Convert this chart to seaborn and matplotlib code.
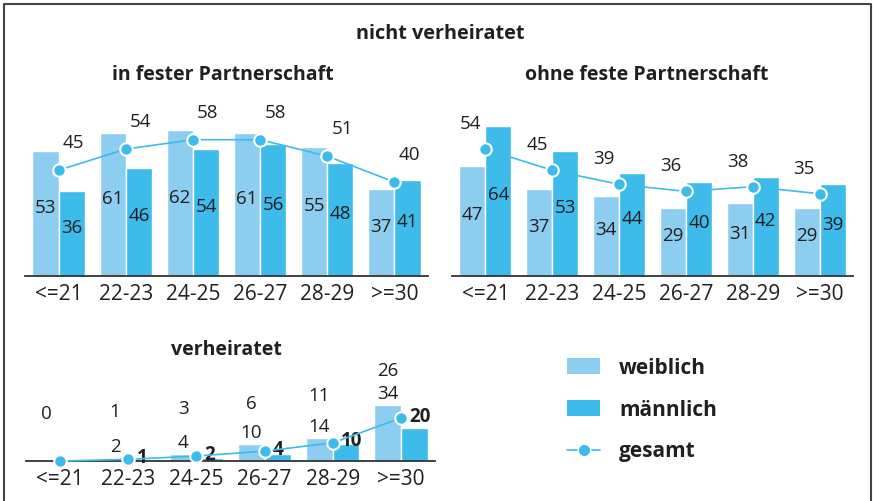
import matplotlib
matplotlib.use('Agg')
import matplotlib.pyplot as plt
import seaborn as sns
import pandas as pd
from matplotlib.patches import Patch
from matplotlib.lines import Line2D

# data
altersgruppen = ['<=21', '22-23', '24-25', '26-27', '28-29', '>=30']

fest_weiblich = [53, 61, 62, 61, 55, 37]
fest_maennlich = [36, 46, 54, 56, 48, 41]
fest_gesamt = [45, 54, 58, 58, 51, 40]

ohne_weiblich = [47, 37, 34, 29, 31, 29]
ohne_maennlich = [64, 53, 44, 40, 42, 39]
ohne_gesamt = [54, 45, 39, 36, 38, 35]

verh_weiblich = [0, 2, 4, 10, 14, 34]
verh_maennlich = [0, 1, 2, 4, 10, 20]
verh_gesamt = [0, 1, 3, 6, 11, 26]

hell = '#8dcdef'
dunkel = '#3dbbeb'
linie = '#3dbbeb'
textfarbe = '#231f20'

sns.set_theme(style='white')
plt.rcParams['font.family'] = ['Open Sans', 'DejaVu Sans']

W, H = 873, 501
fig = plt.figure(figsize=(W / 100, H / 100), dpi=100)


def px_axes(left, right, top, bottom):
    return fig.add_axes([left / W, 1 - bottom / H, (right - left) / W, (bottom - top) / H])


def panel(ax, weiblich, maennlich, gesamt, ymax):
    df = pd.DataFrame({'alter': altersgruppen * 2,
                       'wert': weiblich + maennlich,
                       'geschlecht': ['weiblich'] * 6 + ['männlich'] * 6})
    sns.barplot(data=df, x='alter', y='wert', hue='geschlecht', order=altersgruppen,
                palette=[hell, dunkel], width=0.78, saturation=1, edgecolor='white',
                linewidth=1, legend=False, ax=ax)
    sns.pointplot(x=altersgruppen, y=gesamt, color=linie, markers='o', errorbar=None,
                  markersize=9, markeredgecolor='white', markeredgewidth=1.5,
                  linewidth=1.2, clip_on=False, zorder=5, ax=ax)
    ax.set_ylim(0, ymax)
    ax.set_xlim(-0.5, 5.5)
    ax.set_xlabel('')
    ax.set_ylabel('')
    ax.set_yticks([])
    for s in ['top', 'left', 'right']:
        ax.spines[s].set_visible(False)
    ax.spines['bottom'].set_color('#333333')
    ax.spines['bottom'].set_linewidth(1.3)
    ax.tick_params(axis='x', length=0, pad=6, labelsize=15, labelcolor=textfarbe)
    ax.set_facecolor('none')


# in fester Partnerschaft
ax1 = px_axes(25, 428, 100, 276)
panel(ax1, fest_weiblich, fest_maennlich, fest_gesamt, 74.9)
for i in range(6):
    ax1.annotate(str(fest_weiblich[i]), (i - 0.195, fest_weiblich[i] / 2), xytext=(0, 4),
                 textcoords='offset points', ha='center', va='center', fontsize=13.5, color=textfarbe)
    ax1.annotate(str(fest_maennlich[i]), (i + 0.195, fest_maennlich[i] / 2), xytext=(0, 4),
                 textcoords='offset points', ha='center', va='center', fontsize=13.5, color=textfarbe)
    ax1.annotate(str(fest_gesamt[i]), (i, fest_gesamt[i]), xytext=(10.8, 19.5),
                 textcoords='offset points', ha='center', va='center', fontsize=13.5, color=textfarbe)

# ohne feste Partnerschaft
ax2 = px_axes(452, 853, 100, 276)
panel(ax2, ohne_weiblich, ohne_maennlich, ohne_gesamt, 74.9)
for i in range(6):
    ax2.annotate(str(ohne_weiblich[i]), (i - 0.195, ohne_weiblich[i] / 2), xytext=(0, 4),
                 textcoords='offset points', ha='center', va='center', fontsize=13.5, color=textfarbe)
    ax2.annotate(str(ohne_maennlich[i]), (i + 0.195, ohne_maennlich[i] / 2), xytext=(0, 4),
                 textcoords='offset points', ha='center', va='center', fontsize=13.5, color=textfarbe)
    ax2.annotate(str(ohne_gesamt[i]), (i, ohne_gesamt[i]), xytext=(-11, 18),
                 textcoords='offset points', ha='center', va='center', fontsize=13.5, color=textfarbe)

# verheiratet
ax3 = px_axes(26, 435, 371, 461)
panel(ax3, verh_weiblich, verh_maennlich, verh_gesamt, 54.5)
for i in range(6):
    ax3.annotate(str(verh_gesamt[i]), (i - 0.195, verh_gesamt[i]), xytext=(0, 34),
                 textcoords='offset points', ha='center', va='center', fontsize=13.5, color=textfarbe)
    if verh_weiblich[i] > 0:
        ax3.annotate(str(verh_weiblich[i]), (i - 0.195, verh_weiblich[i]), xytext=(0, 8),
                     textcoords='offset points', ha='center', va='center', fontsize=13.5, color=textfarbe)
    if verh_maennlich[i] > 0:
        ax3.annotate(str(verh_maennlich[i]), (i, verh_gesamt[i]), xytext=(6, 1),
                     textcoords='offset points', ha='left', va='center', fontsize=13.5,
                     fontweight='bold', color=textfarbe)

# titles
fig.text(440 / W, 1 - 34 / H, 'nicht verheiratet', ha='center', va='center',
         fontsize=14.3, fontweight='bold', color=textfarbe)
fig.text(223 / W, 1 - 75 / H, 'in fester Partnerschaft', ha='center', va='center',
         fontsize=14, fontweight='bold', color=textfarbe)
fig.text(647 / W, 1 - 75 / H, 'ohne feste Partnerschaft', ha='center', va='center',
         fontsize=14, fontweight='bold', color=textfarbe)
fig.text(226 / W, 1 - 350 / H, 'verheiratet', ha='center', va='center',
         fontsize=14, fontweight='bold', color=textfarbe)

# legend
handles = [Patch(facecolor=hell, edgecolor='none'),
           Patch(facecolor=dunkel, edgecolor='none'),
           Line2D([], [], color=linie, lw=1.2, marker='o', markersize=9,
                  markeredgecolor='white', markeredgewidth=1)]
fig.legend(handles, ['weiblich', 'männlich', 'gesamt'], loc='center left',
           bbox_to_anchor=(567 / W, 1 - 410 / H), frameon=False, borderpad=0,
           borderaxespad=0, handlelength=1.6, handleheight=0.8, handletextpad=0.9,
           labelspacing=1.0, prop={'weight': 'bold', 'size': 15}, labelcolor=textfarbe)

# frame
fig.add_artist(Line2D([4 / W, 4 / W, 871 / W, 871 / W], [0, 1 - 4 / H, 1 - 4 / H, 0],
                      transform=fig.transFigure, color='#444444', lw=1.5))

fig.savefig('out.png', dpi=100)
